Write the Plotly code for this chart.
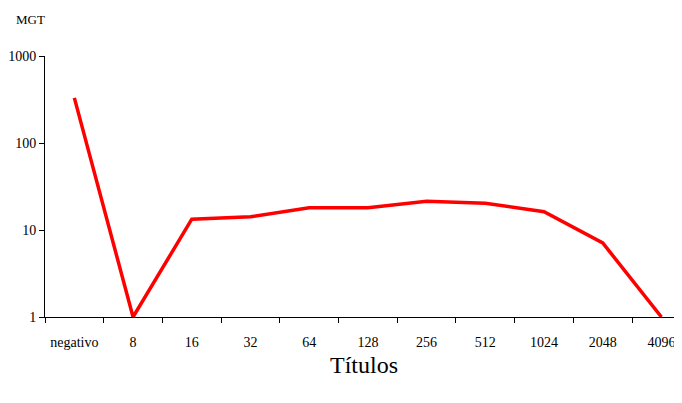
import plotly.graph_objects as go

categories = ["negativo", "8", "16", "32", "64", "128", "256", "512", "1024", "2048", "4096"]
mgt_values = [330, 1, 13.3, 14.2, 18, 18, 21.4, 20.3, 16.2, 7.1, 1]
y_ticks = [1, 10, 100, 1000]
y_tick_labels = ["1", "10", "100", "1000"]

FONT = "Liberation Serif, Times New Roman, serif"

fig = go.Figure()
fig.add_trace(go.Scatter(
    x=categories, y=mgt_values, mode="lines",
    line=dict(color="#FF0000", width=3.5),
    showlegend=False, hoverinfo="skip", cliponaxis=False,
))

# page body has an 8px default margin; compensate in figure size/margins
fig.update_layout(
    width=674, height=395,
    margin=dict(l=37, r=0, t=48, b=86, autoexpand=False),
    paper_bgcolor="white", plot_bgcolor="white",
    font=dict(family=FONT, color="black", size=14),
    xaxis=dict(
        type="category", range=[-0.5, 10.35], automargin=False,
        showline=True, linecolor="black", linewidth=1,
        ticks="outside", ticklen=5, tickcolor="black", tickwidth=1,
        tickson="boundaries", showgrid=False, zeroline=False,
        ticklabelstandoff=12,
        tickfont=dict(family=FONT, size=14, color="black"),
    ),
    yaxis=dict(
        type="log", range=[0, 3], automargin=False,
        tickvals=y_ticks, ticktext=y_tick_labels,
        showline=True, linecolor="black", linewidth=1,
        ticks="outside", ticklen=5, tickcolor="black", tickwidth=1,
        showgrid=False, zeroline=False,
        tickfont=dict(family=FONT, size=14, color="black"),
    ),
    annotations=[
        dict(text="MGT", x=(30 - 45) / 637, y=1 + (56 - 20) / 261,
             xref="paper", yref="paper", xanchor="center", yanchor="middle",
             showarrow=False, font=dict(family=FONT, size=13)),
        dict(text="Títulos", x=0.5, y=-(350 - 317) / 261, xref="paper", yref="paper",
             xanchor="center", yanchor="top", showarrow=False,
             font=dict(family=FONT, size=24)),
    ],
)

fig.write_html("out.html")
